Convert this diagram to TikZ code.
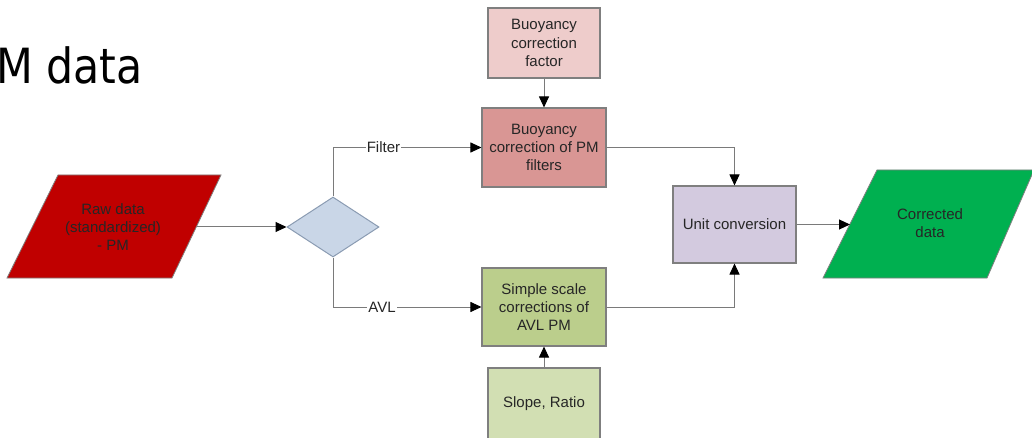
\documentclass[tikz,border=0pt]{standalone}
\usepackage{fontspec}
\setmainfont{Liberation Sans}
\newfontfamily\titlefont{DejaVu Sans}
\usetikzlibrary{shapes.geometric,arrows.meta}
\definecolor{rawred}{HTML}{C00000}
\definecolor{diafill}{HTML}{C9D6E7}
\definecolor{diaborder}{HTML}{8A9BB2}
\definecolor{facfill}{HTML}{EECCCB}
\definecolor{buoyfill}{HTML}{D99694}
\definecolor{simpfill}{HTML}{BBCE8C}
\definecolor{slopefill}{HTML}{D2DFB3}
\definecolor{unitfill}{HTML}{D3CADF}
\definecolor{corrgreen}{HTML}{00B050}
\definecolor{boxborder}{HTML}{7F7F7F}
\definecolor{linegray}{HTML}{7A7A7A}
\definecolor{txt}{HTML}{262626}
\tikzset{
  procbox/.style={draw=boxborder, line width=1.1pt, rectangle, inner sep=0pt,
    align=center, text=txt, font=\fontsize{15}{18.2}\selectfont},
  datatext/.style={inner sep=0pt, align=center, text=txt, font=\fontsize{15}{18.2}\selectfont},
  conn/.style={draw=linegray, line width=1pt, -{Triangle[length=11pt,width=10pt,color=black]}},
  lbl/.style={fill=white, inner sep=1pt, text=txt, font=\fontsize{15}{17}\selectfont}
}
\begin{document}
\begin{tikzpicture}[x=1pt,y=-1pt]
\useasboundingbox (0,0) rectangle (1032,438);
\clip (0,0) rectangle (1032,438);
% title fragment
\node[anchor=base west, inner sep=0pt, xscale=0.88, font=\titlefont\fontsize{48.5}{58}\selectfont] (title) at (-4,83.5) {M data};
% raw data parallelogram
\draw[fill=rawred, draw=boxborder, line width=0.8pt] (58,175) -- (221,175) -- (172,278) -- (7,278) -- cycle;
\node[datatext] (raw) at (113,227) {Raw data\\(standardized)\\- PM};
\coordinate (rawR) at (196.5,227);
% decision diamond
\node[diamond, draw=diaborder, fill=diafill, line width=1pt, inner sep=0pt, minimum width=92pt, minimum height=60pt] (dia) at (333,227) {};
% boxes
\node[procbox, fill=facfill, minimum width=112pt, minimum height=70pt] (fac) at (544,43) {Buoyancy\\correction\\factor};
\node[procbox, fill=buoyfill, minimum width=124pt, minimum height=79pt] (buoy) at (544,147.5) {Buoyancy\\correction of PM\\filters};
\node[procbox, fill=simpfill, minimum width=124pt, minimum height=78pt] (simp) at (544,307) {Simple scale\\corrections of\\AVL PM};
\node[procbox, fill=slopefill, minimum width=112pt, minimum height=71pt] (slope) at (544,403.5) {Slope, Ratio};
\node[procbox, fill=unitfill, minimum width=123pt, minimum height=77pt] (unit) at (734.5,224.5) {Unit conversion};
% corrected data parallelogram
\draw[fill=corrgreen, draw=boxborder, line width=0.8pt] (877,170) -- (1034,170) -- (987,278) -- (823,278) -- cycle;
\node[datatext] (corr) at (930,223) {Corrected\\data};
\coordinate (corrL) at (850,224.5);
% connectors
\draw[conn] (rawR) -- (dia.west);
\draw[conn] (dia.north) |- node[lbl, pos=0.67] {Filter} (buoy.west);
\draw[conn] (dia.south) |- node[lbl, pos=0.665] {AVL} (simp.west);
\draw[conn] (fac.south) -- (buoy.north);
\draw[conn] (slope.north) -- (simp.south);
\draw[conn] (buoy.east) -| (unit.north);
\draw[conn] (simp.east) -| (unit.south);
\draw[conn] (unit.east) -- (corrL);
\end{tikzpicture}
\end{document}
